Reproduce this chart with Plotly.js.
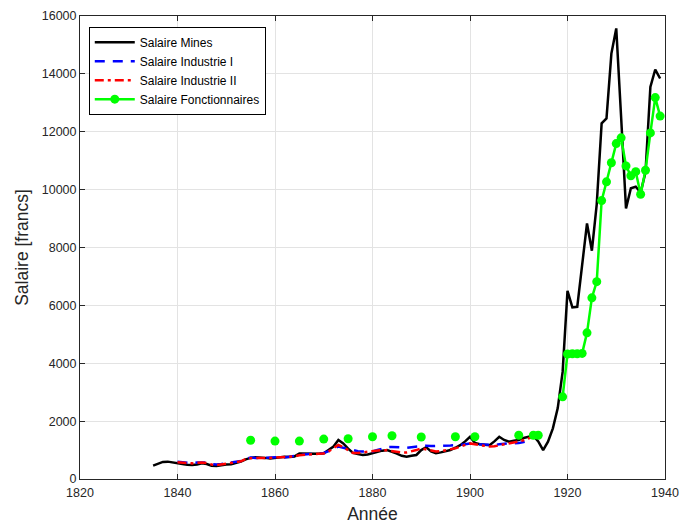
<!DOCTYPE html>
<html>
<head>
<meta charset="utf-8">
<script src="https://cdn.plot.ly/plotly-3.0.1.min.js"></script>
<style>html,body{margin:0;padding:0;background:#fff;}#chart{width:680px;height:525px;}</style>
</head>
<body>
<div id="chart"></div>
<script>
// ---- Data ----
const minesStart = 1835;
const minesValues = [
  460, 530, 590, 600, 580, 560, 520, 490, 480, 500,          // 1835-1844
  540, 520, 460, 450, 480, 500, 510, 560, 600, 680,          // 1845-1854
  730, 750, 750, 730, 710, 730, 770, 770, 760, 780,          // 1855-1864
  880, 880, 860, 860, 870, 890, 1000, 1120, 1350, 1230,      // 1865-1874
  1050, 900, 860, 830, 850, 900, 950, 980, 1000, 950,        // 1875-1884
  880, 800, 770, 800, 830, 1000, 1100, 950, 890, 920,        // 1885-1894
  960, 1000, 1080, 1170, 1300, 1460, 1250, 1200, 1180, 1170, // 1895-1904
  1300, 1460, 1350, 1290, 1320, 1350, 1420, 1460, 1500, 1300,// 1905-1914
  1000, 1290, 1750, 2450, 3700, 6500, 5930, 5950, 7300, 8830,// 1915-1924
  7890, 9500, 12290, 12460, 14700, 15570, 12500, 9350, 10050, 10100, // 1925-1934
  9900, 10600, 13550, 14150, 13840                           // 1935-1939
];

const ind1Start = 1840;
const ind1Values = [
  600, 580, 560, 550, 570, 580, 570, 520, 500, 520,          // 1840-1849
  540, 560, 590, 620, 700, 740, 730, 720, 730, 740,          // 1850-1859
  750, 760, 740, 770, 790, 830, 850, 860, 870, 880,          // 1860-1869
  900, 960, 1060, 1120, 1080, 1060, 1000, 960, 950, 950,     // 1870-1879
  950, 1000, 1050, 1100, 1110, 1100, 1080, 1080, 1100, 1120, // 1880-1889
  1140, 1150, 1140, 1140, 1140, 1150, 1160, 1170, 1180, 1200,// 1890-1899
  1230, 1230, 1200, 1190, 1180, 1175, 1200, 1220, 1230, 1230,// 1900-1909
  1240, 1280, 1320                                           // 1910-1912
];

const ind2Start = 1840;
const ind2Values = [
  580, 570, 550, 540, 560, 570, 550, 500, 480, 500,          // 1840-1849
  520, 550, 580, 610, 690, 720, 720, 710, 720, 730,          // 1850-1859
  740, 750, 740, 760, 780, 820, 840, 850, 860, 870,          // 1860-1869
  880, 950, 1080, 1180, 1100, 1000, 900, 900, 920, 940,      // 1870-1879
  960, 980, 1000, 990, 960, 940, 920, 920, 950, 1000,        // 1880-1889
  1060, 1020, 980, 950, 960, 990, 1030, 1060, 1120, 1180,    // 1890-1899
  1230, 1200, 1170, 1140, 1120, 1130, 1160, 1200, 1230, 1260,// 1900-1909
  1300, 1340, 1400, 1460, 1480                               // 1910-1914
];

const fonctYears = [1855, 1860, 1865, 1870, 1875, 1880, 1884, 1890, 1897, 1901, 1910, 1913, 1914,
  1919, 1920, 1921, 1922, 1923, 1924, 1925, 1926, 1927, 1928, 1929, 1930,
  1931, 1932, 1933, 1934, 1935, 1936, 1937, 1938, 1939];
const fonctValues = [1340, 1310, 1310, 1380, 1390, 1460, 1495, 1450, 1460, 1460, 1510, 1510, 1510,
  2840, 4320, 4330, 4330, 4340, 5050, 6260, 6820, 9620, 10270, 10930, 11590,
  11790, 10820, 10480, 10620, 9840, 10670, 11960, 13180, 12540];

const xTicks = [1820, 1840, 1860, 1880, 1900, 1920, 1940];
const yTicks = [0, 2000, 4000, 6000, 8000, 10000, 12000, 14000, 16000];

// ---- Helpers ----
function yearsFrom(start, n) { const a = []; for (let i = 0; i < n; i++) a.push(start + i); return a; }
// Insert gaps (null) between non-consecutive years so isolated points show as markers only
function withGaps(years, vals) {
  const xs = [], ys = [];
  for (let i = 0; i < years.length; i++) {
    if (i > 0 && years[i] - years[i - 1] > 1) { xs.push(years[i - 1] + 0.5); ys.push(null); }
    xs.push(years[i]); ys.push(vals[i]);
  }
  return { xs, ys };
}

const fg = withGaps(fonctYears, fonctValues);
const FONT = 'Liberation Sans, Arial, Helvetica, sans-serif';

const traces = [
  { x: yearsFrom(minesStart, minesValues.length), y: minesValues, name: 'Salaire Mines',
    type: 'scatter', mode: 'lines', line: { color: '#000000', width: 2.5 } },
  { x: yearsFrom(ind1Start, ind1Values.length), y: ind1Values, name: 'Salaire Industrie I',
    type: 'scatter', mode: 'lines', line: { color: '#0000ff', width: 2.5, dash: '10px,8px' } },
  { x: yearsFrom(ind2Start, ind2Values.length), y: ind2Values, name: 'Salaire Industrie II',
    type: 'scatter', mode: 'lines', line: { color: '#ff0000', width: 2.5, dash: '9px,4px,3px,4px' } },
  { x: fg.xs, y: fg.ys, name: 'Salaire Fonctionnaires', connectgaps: false,
    type: 'scatter', mode: 'lines+markers', line: { color: '#00ff00', width: 2.5 },
    marker: { color: '#00ff00', size: 9, symbol: 'circle' } }
];

const axisCommon = {
  showline: true, mirror: 'ticks', linecolor: '#262626', linewidth: 1,
  ticks: 'inside', ticklen: 5, tickcolor: '#262626', tickwidth: 1,
  showgrid: true, gridcolor: '#e3e3e3', gridwidth: 1, zeroline: false,
  tickfont: { family: FONT, size: 12.5, color: '#262626' }
};

const layout = {
  width: 680, height: 525,
  margin: { l: 80, r: 15, t: 16, b: 46 },
  paper_bgcolor: '#ffffff', plot_bgcolor: '#ffffff',
  showlegend: true,
  legend: {
    x: 0.015, y: 0.977, xanchor: 'left', yanchor: 'top',
    bgcolor: '#ffffff', bordercolor: '#000000', borderwidth: 1,
    font: { family: FONT, size: 12, color: '#000000' },
    tracegroupgap: 0, itemwidth: 40
  },
  xaxis: Object.assign({}, axisCommon, {
    range: [1820, 1940], tickvals: xTicks, ticktext: xTicks.map(String),
    ticklabelstandoff: 2,
    title: { text: 'Année', font: { family: FONT, size: 17.5, color: '#262626' }, standoff: 8 }
  }),
  yaxis: Object.assign({}, axisCommon, {
    range: [0, 16000], tickvals: yTicks, ticktext: yTicks.map(String),
    title: { text: 'Salaire [francs]', font: { family: FONT, size: 17.5, color: '#262626' }, standoff: 8 }
  })
};

Plotly.newPlot('chart', traces, layout, { displayModeBar: false, staticPlot: true });
</script>
</body>
</html>
